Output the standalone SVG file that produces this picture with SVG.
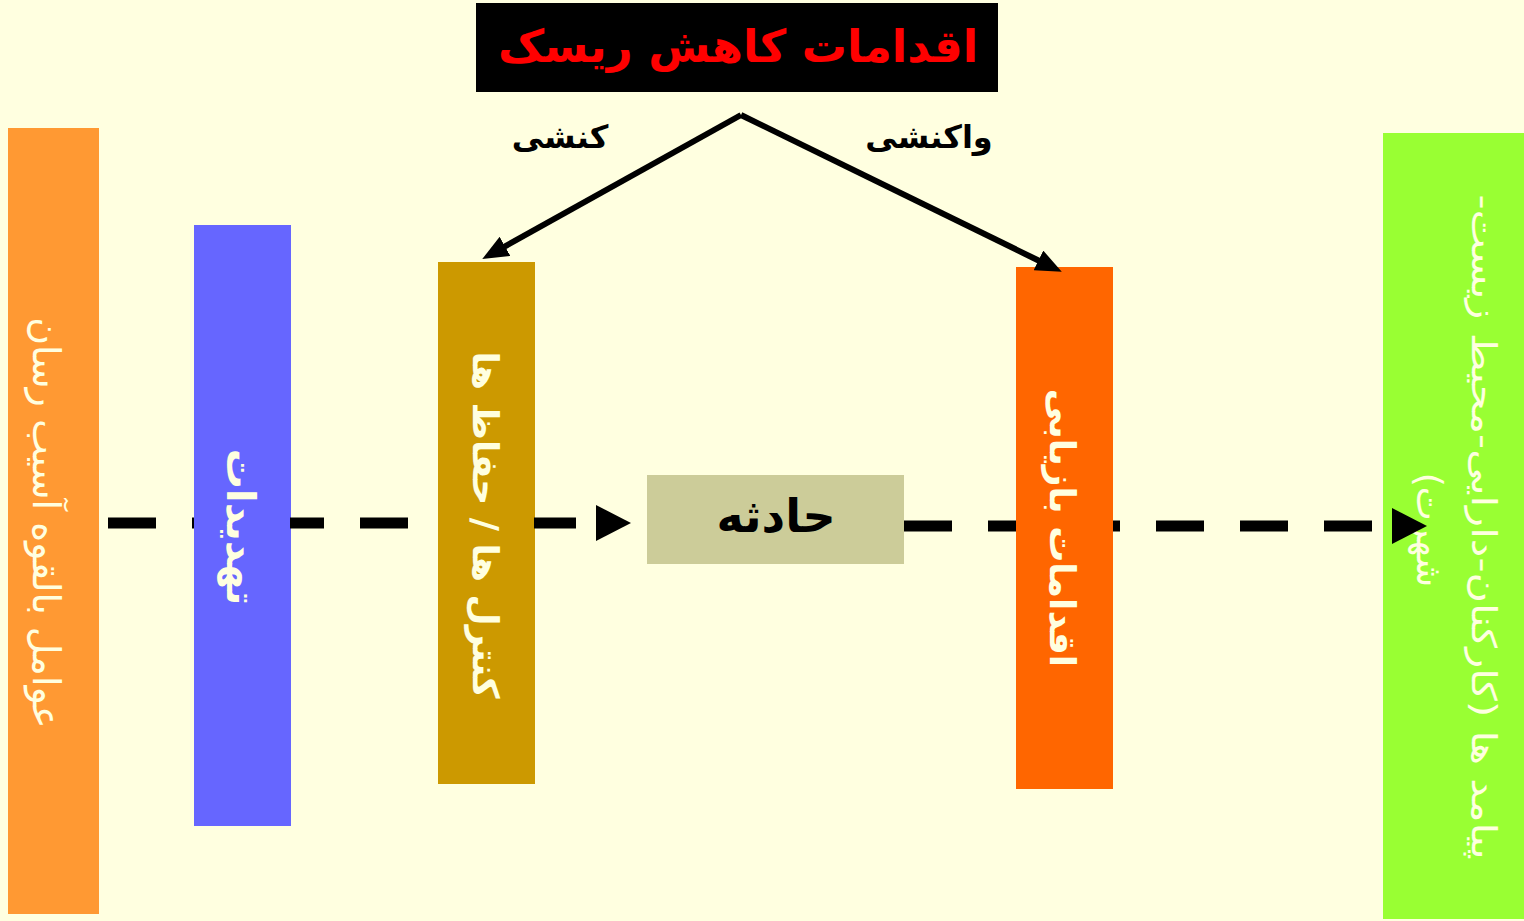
<svg xmlns="http://www.w3.org/2000/svg" width="1524" height="921" viewBox="0 0 1524 921">
<style>
.fa{font-family:"DejaVu Sans","Noto Sans",sans-serif;direction:rtl;text-anchor:middle}
.in{fill:#FFFFE0}
.b{font-weight:bold}
.dash{fill:none;stroke:#000;stroke-width:11}
.arr{fill:none;stroke:#000;stroke-width:6}
</style>
<defs>
<marker id="bigHead" markerUnits="userSpaceOnUse" markerWidth="36" markerHeight="36" refX="0" refY="18" orient="auto" viewBox="0 0 36 36">
<path d="M0,0 L35,18 L0,36 z" fill="#000"/>
</marker>
<marker id="smallHead" markerUnits="userSpaceOnUse" markerWidth="26" markerHeight="22" refX="12" refY="11" orient="auto" viewBox="0 0 26 22">
<path d="M0,0 L26,11 L0,22 z" fill="#000"/>
</marker>
</defs>
<rect x="0" y="0" width="1524" height="921" fill="#FFFFE0"/>
<g id="title">
<rect x="476" y="3" width="522" height="89" fill="#000"/>
<text class="fa b" x="738" y="62" font-size="45" fill="#FF0000">اقدامات کاهش ریسک</text>
</g>
<g id="label-proactive"><text class="fa b" x="560" y="148" font-size="32" fill="#000">کنشی</text></g>
<g id="label-reactive"><text class="fa b" x="929" y="148" font-size="32" fill="#000">واکنشی</text></g>
<g id="consequences">
<rect x="1383" y="133" width="141" height="786" fill="#99FF33"/>
<g transform="translate(1484,527) rotate(90)">
<text class="fa in" x="0" y="0" font-size="34" dominant-baseline="central" textLength="665" lengthAdjust="spacingAndGlyphs">پیامد ها (کارکنان-دارایی-محیط زیست-</text>
</g>
<g transform="translate(1429,530) rotate(90)">
<text class="fa in" x="0" y="0" font-size="36" dominant-baseline="central">شهرت)</text>
</g>
</g>
<g id="hazards">
<rect x="8" y="128" width="91" height="786" fill="#FF9933"/>
<g transform="translate(46,523) rotate(90)">
<text class="fa in" x="0" y="0" font-size="38" dominant-baseline="central">عوامل بالقوه آسیب رسان</text>
</g>
</g>
<g id="threats">
<rect x="194" y="225" width="97" height="601" fill="#6666FF"/>
<g transform="translate(241,527) rotate(90)">
<text class="fa in b" x="0" y="0" font-size="40" dominant-baseline="central">تهدیدات</text>
</g>
</g>
<g id="controls">
<rect x="438" y="262" width="97" height="522" fill="#CC9900"/>
<g transform="translate(485,525) rotate(90)">
<text class="fa in b" x="0" y="0" font-size="36" dominant-baseline="central">کنترل ها / حفاظ ها</text>
</g>
</g>
<g id="incident">
<rect x="647" y="475" width="257" height="89" fill="#CCCC99"/>
<text class="fa b" x="776" y="532" font-size="46" fill="#000">حادثه</text>
</g>
<g id="recovery">
<rect x="1016" y="267" width="97" height="522" fill="#FF6600"/>
<g transform="translate(1062,528) rotate(90)">
<text class="fa in b" x="0" y="0" font-size="36" dominant-baseline="central">اقدامات بازیابی</text>
</g>
</g>
<g id="connectors">
<path class="dash" d="M108,523 H596" stroke-dasharray="48 36 2 96 34 36 48 126 42 100" marker-end="url(#bigHead)"/>
<path class="dash" d="M904,526 H1392" stroke-dasharray="48 36 28 97 7 36 48 36 48 36 48 100" marker-end="url(#bigHead)"/>
<path class="arr" d="M741,115 L494.5,252.2" marker-end="url(#smallHead)"/>
<path class="arr" d="M741,115 L1049.2,265.7" marker-end="url(#smallHead)"/>
</g>
</svg>
